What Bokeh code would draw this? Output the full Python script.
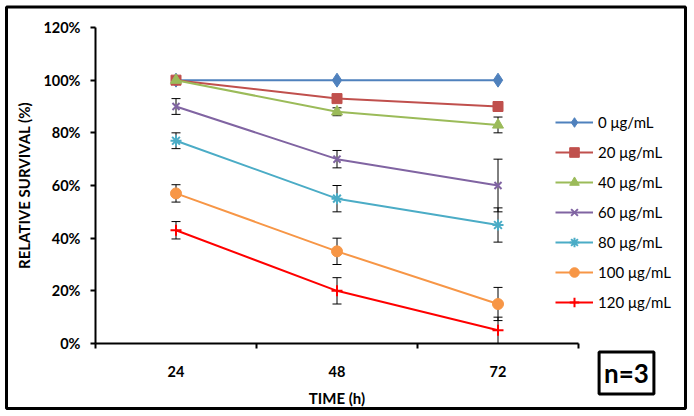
import math
from bokeh.plotting import figure
from bokeh.models import (Range1d, FixedTicker, PrintfTickFormatter, Whisker, TeeHead,
                          ColumnDataSource, Legend, LegendItem, Label, BoxAnnotation)
from bokeh.embed import file_html
from bokeh.resources import INLINE

# ---- data ----
times = ["24", "48", "72"]
concentrations = ["0 μg/mL", "20 μg/mL", "40 μg/mL", "60 μg/mL", "80 μg/mL", "100 μg/mL", "120 μg/mL"]
surv_0 = [100, 100, 100]
surv_20 = [100, 93, 90]
surv_40 = [100, 88, 83]
surv_60 = [90, 70, 60]
surv_80 = [77, 55, 45]
surv_100 = [57, 35, 15]
surv_120 = [43, 20, 5]
err_0 = [0, 0, 0]
err_20 = [0, 0, 0]
err_40 = [0, 1.5, 3]
err_60 = [3, 3.3, 10]
err_80 = [3, 5, 6.5]
err_100 = [3.3, 5, 6.3]
err_120 = [3.3, 5, 5]
y_ticks = [0, 20, 40, 60, 80, 100, 120]

series = [surv_0, surv_20, surv_40, surv_60, surv_80, surv_100, surv_120]
errors = [err_0, err_20, err_40, err_60, err_80, err_100, err_120]
colors = ["#4F81BD", "#C0504D", "#9BBB59", "#8064A2", "#4BACC6", "#F79646", "#FF0000"]
markers = ["diamond", "square", "triangle", "x", "asterisk", "circle", "cross"]
sizes = [14, 10, 11, 10, 11, 11, 11]

xs = [i + 0.5 for i in range(len(times))]

FONT = "Lato"

# ---- layout (pixels) ----
W, H = 690, 412
AX_LEFT, AX_RIGHT = 95, 578      # x axis extent (0..3)
AX_TOP, AX_BOTTOM = 27, 343      # y axis extent (120..0)
ppx = (AX_RIGHT - AX_LEFT) / 3.0
ppy = (AX_BOTTOM - AX_TOP) / 120.0
x0, x1 = -AX_LEFT / ppx, (W - AX_LEFT) / ppx
y0, y1 = -(H - AX_BOTTOM) / ppy, AX_BOTTOM / ppy


def dx(px):
    return x0 + px / ppx


def dy(py):
    return y1 - py / ppy


p = figure(width=W, height=H, x_range=Range1d(x0, x1), y_range=Range1d(y0, y1),
           output_backend="svg", toolbar_location=None,
           min_border_left=0, min_border_right=0, min_border_top=0, min_border_bottom=0)
p.outline_line_color = None
p.xgrid.visible = False
p.ygrid.visible = False
p.background_fill_color = "white"
p.border_fill_color = "white"

# x axis
p.xaxis.fixed_location = 0
p.xaxis.bounds = (0, 3)
p.xaxis.ticker = FixedTicker(ticks=xs, minor_ticks=[0, 1, 2, 3])
p.xaxis.major_label_overrides = {x: t for x, t in zip(xs, times)}
p.xaxis.major_tick_out = 0
p.xaxis.major_tick_in = 0
p.xaxis.minor_tick_out = 5
p.xaxis.minor_tick_in = 0
p.xaxis.minor_tick_line_color = "black"
p.xaxis.minor_tick_line_width = 2
p.xaxis.axis_label = "TIME (h)"
p.xaxis.major_label_standoff = 17
p.xaxis.axis_label_standoff = 9

# y axis
p.yaxis.fixed_location = 0
p.yaxis.bounds = (0, 120)
p.yaxis.ticker = FixedTicker(ticks=y_ticks, minor_ticks=[])
p.yaxis.formatter = PrintfTickFormatter(format="%d%%")
p.yaxis.major_tick_out = 5
p.yaxis.major_tick_in = 0
p.yaxis.major_tick_line_width = 2
p.yaxis.major_label_standoff = 10
p.yaxis.axis_label = "RELATIVE SURVIVAL (%)"
p.yaxis.axis_label_standoff = 7

for ax in (p.xaxis, p.yaxis):
    ax.axis_line_color = "black"
    ax.axis_line_width = 2
    ax.major_tick_line_color = "black"
    ax.major_label_text_font = FONT
    ax.major_label_text_font_style = "bold"
    ax.major_label_text_font_size = "14.5px"
    ax.major_label_text_color = "black"
    ax.axis_label_text_font = FONT
    ax.axis_label_text_font_style = "bold"
    ax.axis_label_text_font_size = "15px"
    ax.axis_label_text_color = "black"

items = []
for name, ys, errs, c, m, s in zip(concentrations, series, errors, colors, markers, sizes):
    src = ColumnDataSource(dict(x=xs, y=ys,
                                lo=[max(0, v - e) for v, e in zip(ys, errs)],
                                hi=[v + e for v, e in zip(ys, errs)]))
    if any(e > 0 for e in errs):
        w = Whisker(base="x", upper="hi", lower="lo", source=src, dimension="height",
                    line_color="black", line_width=1, level="underlay",
                    upper_head=TeeHead(size=9, line_color="black", line_width=1),
                    lower_head=TeeHead(size=9, line_color="black", line_width=1))
        p.add_layout(w)
    lr = p.line("x", "y", source=src, line_color=c, line_width=2)
    lw = 2 if m in ("x", "asterisk", "cross") else 1
    sr = p.scatter("x", "y", source=src, marker=m, size=s,
                   fill_color=c, line_color=c, line_width=lw)
    items.append(LegendItem(label=name, renderers=[lr, sr]))

legend = Legend(items=items, location=(555, H - 314), padding=0, margin=0,
                glyph_width=38, glyph_height=24, label_height=24, spacing=6,
                label_standoff=5, border_line_color=None, background_fill_alpha=0,
                label_text_font=FONT, label_text_font_size="15px", label_text_color="black")
p.add_layout(legend, "center")

n_label = Label(x=626, y=H - 372.5, x_units="screen", y_units="screen", text="n=3",
                text_align="center", text_baseline="middle", text_font=FONT,
                text_font_size="26px", text_font_style="bold", text_color="black",
                border_line_color="black", border_line_width=3,
                background_fill_color="white", padding=5)
p.add_layout(n_label)

# outer chart-area border
border = BoxAnnotation(left=dx(6), right=dx(685), top=dy(6.5), bottom=dy(408),
                       fill_color=None, fill_alpha=0, line_color="black",
                       line_alpha=1.0, line_width=3, line_dash="solid")
p.add_layout(border)

open("out.html", "w").write(file_html(p, INLINE))
